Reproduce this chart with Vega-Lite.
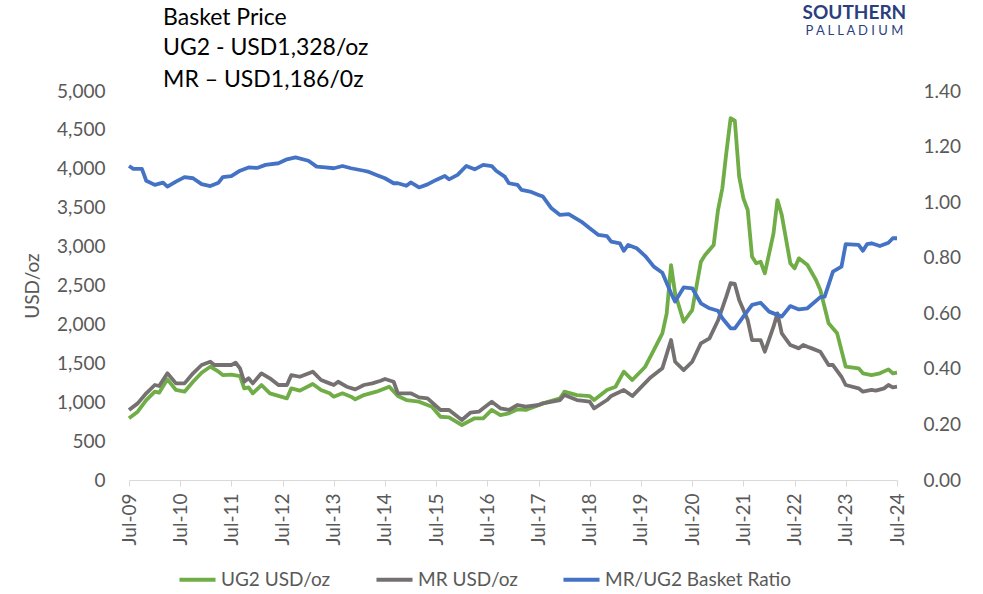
{
  "$schema": "https://vega.github.io/schema/vega-lite/v6.json",
  "width": 768,
  "height": 389,
  "autosize": "none",
  "padding": {"left": 129, "top": 91, "right": 86, "bottom": 114},
  "config": {
    "view": {"stroke": null},
    "font": "Lato"
  },
  "data": {
    "values": [
      {"date": "2009/07/01", "series": "UG2 USD/oz", "value": 793},
      {"date": "2009/09/01", "series": "UG2 USD/oz", "value": 878},
      {"date": "2009/11/01", "series": "UG2 USD/oz", "value": 1028},
      {"date": "2010/01/01", "series": "UG2 USD/oz", "value": 1135},
      {"date": "2010/02/01", "series": "UG2 USD/oz", "value": 1122},
      {"date": "2010/04/01", "series": "UG2 USD/oz", "value": 1294},
      {"date": "2010/06/01", "series": "UG2 USD/oz", "value": 1157},
      {"date": "2010/08/01", "series": "UG2 USD/oz", "value": 1135},
      {"date": "2010/10/01", "series": "UG2 USD/oz", "value": 1263},
      {"date": "2010/12/01", "series": "UG2 USD/oz", "value": 1379},
      {"date": "2011/02/01", "series": "UG2 USD/oz", "value": 1456},
      {"date": "2011/04/01", "series": "UG2 USD/oz", "value": 1392},
      {"date": "2011/05/01", "series": "UG2 USD/oz", "value": 1349},
      {"date": "2011/07/01", "series": "UG2 USD/oz", "value": 1355},
      {"date": "2011/09/01", "series": "UG2 USD/oz", "value": 1336},
      {"date": "2011/10/01", "series": "UG2 USD/oz", "value": 1178},
      {"date": "2011/11/01", "series": "UG2 USD/oz", "value": 1191},
      {"date": "2011/12/01", "series": "UG2 USD/oz", "value": 1114},
      {"date": "2012/02/01", "series": "UG2 USD/oz", "value": 1221},
      {"date": "2012/04/01", "series": "UG2 USD/oz", "value": 1114},
      {"date": "2012/08/01", "series": "UG2 USD/oz", "value": 1050},
      {"date": "2012/09/01", "series": "UG2 USD/oz", "value": 1178},
      {"date": "2012/11/01", "series": "UG2 USD/oz", "value": 1148},
      {"date": "2013/02/01", "series": "UG2 USD/oz", "value": 1234},
      {"date": "2013/04/01", "series": "UG2 USD/oz", "value": 1157},
      {"date": "2013/06/01", "series": "UG2 USD/oz", "value": 1114},
      {"date": "2013/07/01", "series": "UG2 USD/oz", "value": 1071},
      {"date": "2013/09/01", "series": "UG2 USD/oz", "value": 1114},
      {"date": "2013/11/01", "series": "UG2 USD/oz", "value": 1071},
      {"date": "2013/12/01", "series": "UG2 USD/oz", "value": 1037},
      {"date": "2014/02/01", "series": "UG2 USD/oz", "value": 1092},
      {"date": "2014/05/01", "series": "UG2 USD/oz", "value": 1135},
      {"date": "2014/08/01", "series": "UG2 USD/oz", "value": 1199},
      {"date": "2014/10/01", "series": "UG2 USD/oz", "value": 1079},
      {"date": "2014/12/01", "series": "UG2 USD/oz", "value": 1028},
      {"date": "2015/03/01", "series": "UG2 USD/oz", "value": 1006},
      {"date": "2015/06/01", "series": "UG2 USD/oz", "value": 942},
      {"date": "2015/08/01", "series": "UG2 USD/oz", "value": 813},
      {"date": "2015/10/01", "series": "UG2 USD/oz", "value": 806},
      {"date": "2016/01/01", "series": "UG2 USD/oz", "value": 707},
      {"date": "2016/04/01", "series": "UG2 USD/oz", "value": 793},
      {"date": "2016/06/01", "series": "UG2 USD/oz", "value": 793},
      {"date": "2016/08/01", "series": "UG2 USD/oz", "value": 900},
      {"date": "2016/10/01", "series": "UG2 USD/oz", "value": 835},
      {"date": "2016/12/01", "series": "UG2 USD/oz", "value": 857},
      {"date": "2017/02/01", "series": "UG2 USD/oz", "value": 908},
      {"date": "2017/04/01", "series": "UG2 USD/oz", "value": 900},
      {"date": "2017/08/01", "series": "UG2 USD/oz", "value": 985},
      {"date": "2017/12/01", "series": "UG2 USD/oz", "value": 1050},
      {"date": "2018/01/01", "series": "UG2 USD/oz", "value": 1135},
      {"date": "2018/04/01", "series": "UG2 USD/oz", "value": 1092},
      {"date": "2018/07/01", "series": "UG2 USD/oz", "value": 1079},
      {"date": "2018/08/01", "series": "UG2 USD/oz", "value": 1028},
      {"date": "2018/11/01", "series": "UG2 USD/oz", "value": 1157},
      {"date": "2019/01/01", "series": "UG2 USD/oz", "value": 1199},
      {"date": "2019/03/01", "series": "UG2 USD/oz", "value": 1392},
      {"date": "2019/05/01", "series": "UG2 USD/oz", "value": 1285},
      {"date": "2019/08/01", "series": "UG2 USD/oz", "value": 1456},
      {"date": "2019/10/01", "series": "UG2 USD/oz", "value": 1670},
      {"date": "2019/12/01", "series": "UG2 USD/oz", "value": 1885},
      {"date": "2020/01/01", "series": "UG2 USD/oz", "value": 2142},
      {"date": "2020/02/01", "series": "UG2 USD/oz", "value": 2763},
      {"date": "2020/03/01", "series": "UG2 USD/oz", "value": 2399},
      {"date": "2020/05/01", "series": "UG2 USD/oz", "value": 2034},
      {"date": "2020/07/01", "series": "UG2 USD/oz", "value": 2185},
      {"date": "2020/09/01", "series": "UG2 USD/oz", "value": 2805},
      {"date": "2020/10/01", "series": "UG2 USD/oz", "value": 2891},
      {"date": "2020/12/01", "series": "UG2 USD/oz", "value": 3020},
      {"date": "2021/01/01", "series": "UG2 USD/oz", "value": 3470},
      {"date": "2021/02/01", "series": "UG2 USD/oz", "value": 3750},
      {"date": "2021/03/01", "series": "UG2 USD/oz", "value": 4200},
      {"date": "2021/04/01", "series": "UG2 USD/oz", "value": 4650},
      {"date": "2021/05/01", "series": "UG2 USD/oz", "value": 4620},
      {"date": "2021/06/01", "series": "UG2 USD/oz", "value": 3900},
      {"date": "2021/07/01", "series": "UG2 USD/oz", "value": 3620},
      {"date": "2021/08/01", "series": "UG2 USD/oz", "value": 3470},
      {"date": "2021/09/01", "series": "UG2 USD/oz", "value": 2869},
      {"date": "2021/10/01", "series": "UG2 USD/oz", "value": 2785},
      {"date": "2021/11/01", "series": "UG2 USD/oz", "value": 2805},
      {"date": "2021/12/01", "series": "UG2 USD/oz", "value": 2656},
      {"date": "2022/02/01", "series": "UG2 USD/oz", "value": 3170},
      {"date": "2022/03/01", "series": "UG2 USD/oz", "value": 3598},
      {"date": "2022/04/01", "series": "UG2 USD/oz", "value": 3405},
      {"date": "2022/06/01", "series": "UG2 USD/oz", "value": 2785},
      {"date": "2022/07/01", "series": "UG2 USD/oz", "value": 2720},
      {"date": "2022/08/01", "series": "UG2 USD/oz", "value": 2849},
      {"date": "2022/10/01", "series": "UG2 USD/oz", "value": 2763},
      {"date": "2022/12/01", "series": "UG2 USD/oz", "value": 2570},
      {"date": "2023/01/01", "series": "UG2 USD/oz", "value": 2442},
      {"date": "2023/03/01", "series": "UG2 USD/oz", "value": 2014},
      {"date": "2023/05/01", "series": "UG2 USD/oz", "value": 1885},
      {"date": "2023/07/01", "series": "UG2 USD/oz", "value": 1456},
      {"date": "2023/10/01", "series": "UG2 USD/oz", "value": 1435},
      {"date": "2023/11/01", "series": "UG2 USD/oz", "value": 1371},
      {"date": "2024/01/01", "series": "UG2 USD/oz", "value": 1349},
      {"date": "2024/03/01", "series": "UG2 USD/oz", "value": 1371},
      {"date": "2024/05/01", "series": "UG2 USD/oz", "value": 1422},
      {"date": "2024/06/01", "series": "UG2 USD/oz", "value": 1371},
      {"date": "2024/07/01", "series": "UG2 USD/oz", "value": 1379},

      {"date": "2009/07/01", "series": "MR USD/oz", "value": 900},
      {"date": "2009/09/01", "series": "MR USD/oz", "value": 985},
      {"date": "2009/11/01", "series": "MR USD/oz", "value": 1114},
      {"date": "2010/01/01", "series": "MR USD/oz", "value": 1221},
      {"date": "2010/02/01", "series": "MR USD/oz", "value": 1208},
      {"date": "2010/04/01", "series": "MR USD/oz", "value": 1371},
      {"date": "2010/06/01", "series": "MR USD/oz", "value": 1242},
      {"date": "2010/08/01", "series": "MR USD/oz", "value": 1242},
      {"date": "2010/10/01", "series": "MR USD/oz", "value": 1371},
      {"date": "2010/12/01", "series": "MR USD/oz", "value": 1478},
      {"date": "2011/02/01", "series": "MR USD/oz", "value": 1520},
      {"date": "2011/03/01", "series": "MR USD/oz", "value": 1478},
      {"date": "2011/05/01", "series": "MR USD/oz", "value": 1478},
      {"date": "2011/07/01", "series": "MR USD/oz", "value": 1478},
      {"date": "2011/08/01", "series": "MR USD/oz", "value": 1507},
      {"date": "2011/09/01", "series": "MR USD/oz", "value": 1435},
      {"date": "2011/10/01", "series": "MR USD/oz", "value": 1263},
      {"date": "2011/11/01", "series": "MR USD/oz", "value": 1307},
      {"date": "2011/12/01", "series": "MR USD/oz", "value": 1242},
      {"date": "2012/02/01", "series": "MR USD/oz", "value": 1371},
      {"date": "2012/04/01", "series": "MR USD/oz", "value": 1307},
      {"date": "2012/06/01", "series": "MR USD/oz", "value": 1221},
      {"date": "2012/08/01", "series": "MR USD/oz", "value": 1221},
      {"date": "2012/09/01", "series": "MR USD/oz", "value": 1349},
      {"date": "2012/11/01", "series": "MR USD/oz", "value": 1327},
      {"date": "2013/02/01", "series": "MR USD/oz", "value": 1392},
      {"date": "2013/04/01", "series": "MR USD/oz", "value": 1285},
      {"date": "2013/06/01", "series": "MR USD/oz", "value": 1242},
      {"date": "2013/07/01", "series": "MR USD/oz", "value": 1221},
      {"date": "2013/08/01", "series": "MR USD/oz", "value": 1263},
      {"date": "2013/10/01", "series": "MR USD/oz", "value": 1199},
      {"date": "2013/12/01", "series": "MR USD/oz", "value": 1165},
      {"date": "2014/02/01", "series": "MR USD/oz", "value": 1221},
      {"date": "2014/04/01", "series": "MR USD/oz", "value": 1242},
      {"date": "2014/06/01", "series": "MR USD/oz", "value": 1276},
      {"date": "2014/07/01", "series": "MR USD/oz", "value": 1298},
      {"date": "2014/09/01", "series": "MR USD/oz", "value": 1263},
      {"date": "2014/10/01", "series": "MR USD/oz", "value": 1114},
      {"date": "2015/01/01", "series": "MR USD/oz", "value": 1114},
      {"date": "2015/03/01", "series": "MR USD/oz", "value": 1062},
      {"date": "2015/05/01", "series": "MR USD/oz", "value": 1050},
      {"date": "2015/08/01", "series": "MR USD/oz", "value": 900},
      {"date": "2015/10/01", "series": "MR USD/oz", "value": 900},
      {"date": "2016/01/01", "series": "MR USD/oz", "value": 771},
      {"date": "2016/03/01", "series": "MR USD/oz", "value": 865},
      {"date": "2016/05/01", "series": "MR USD/oz", "value": 878},
      {"date": "2016/06/01", "series": "MR USD/oz", "value": 921},
      {"date": "2016/08/01", "series": "MR USD/oz", "value": 1006},
      {"date": "2016/10/01", "series": "MR USD/oz", "value": 921},
      {"date": "2016/12/01", "series": "MR USD/oz", "value": 900},
      {"date": "2017/02/01", "series": "MR USD/oz", "value": 964},
      {"date": "2017/04/01", "series": "MR USD/oz", "value": 942},
      {"date": "2017/07/01", "series": "MR USD/oz", "value": 964},
      {"date": "2017/08/01", "series": "MR USD/oz", "value": 985},
      {"date": "2017/12/01", "series": "MR USD/oz", "value": 1028},
      {"date": "2018/01/01", "series": "MR USD/oz", "value": 1092},
      {"date": "2018/04/01", "series": "MR USD/oz", "value": 1028},
      {"date": "2018/07/01", "series": "MR USD/oz", "value": 1006},
      {"date": "2018/08/01", "series": "MR USD/oz", "value": 921},
      {"date": "2018/11/01", "series": "MR USD/oz", "value": 1028},
      {"date": "2018/12/01", "series": "MR USD/oz", "value": 1080},
      {"date": "2019/03/01", "series": "MR USD/oz", "value": 1157},
      {"date": "2019/05/01", "series": "MR USD/oz", "value": 1079},
      {"date": "2019/09/01", "series": "MR USD/oz", "value": 1307},
      {"date": "2019/12/01", "series": "MR USD/oz", "value": 1435},
      {"date": "2020/02/01", "series": "MR USD/oz", "value": 1799},
      {"date": "2020/03/01", "series": "MR USD/oz", "value": 1520},
      {"date": "2020/05/01", "series": "MR USD/oz", "value": 1413},
      {"date": "2020/07/01", "series": "MR USD/oz", "value": 1520},
      {"date": "2020/09/01", "series": "MR USD/oz", "value": 1757},
      {"date": "2020/11/01", "series": "MR USD/oz", "value": 1820},
      {"date": "2021/01/01", "series": "MR USD/oz", "value": 2050},
      {"date": "2021/03/01", "series": "MR USD/oz", "value": 2356},
      {"date": "2021/04/01", "series": "MR USD/oz", "value": 2530},
      {"date": "2021/05/01", "series": "MR USD/oz", "value": 2520},
      {"date": "2021/06/01", "series": "MR USD/oz", "value": 2313},
      {"date": "2021/08/01", "series": "MR USD/oz", "value": 2056},
      {"date": "2021/09/01", "series": "MR USD/oz", "value": 1799},
      {"date": "2021/11/01", "series": "MR USD/oz", "value": 1799},
      {"date": "2021/12/01", "series": "MR USD/oz", "value": 1649},
      {"date": "2022/02/01", "series": "MR USD/oz", "value": 1970},
      {"date": "2022/03/01", "series": "MR USD/oz", "value": 2142},
      {"date": "2022/04/01", "series": "MR USD/oz", "value": 1885},
      {"date": "2022/06/01", "series": "MR USD/oz", "value": 1735},
      {"date": "2022/08/01", "series": "MR USD/oz", "value": 1692},
      {"date": "2022/09/01", "series": "MR USD/oz", "value": 1735},
      {"date": "2022/10/01", "series": "MR USD/oz", "value": 1713},
      {"date": "2022/11/01", "series": "MR USD/oz", "value": 1692},
      {"date": "2023/01/01", "series": "MR USD/oz", "value": 1649},
      {"date": "2023/03/01", "series": "MR USD/oz", "value": 1478},
      {"date": "2023/04/01", "series": "MR USD/oz", "value": 1478},
      {"date": "2023/06/01", "series": "MR USD/oz", "value": 1327},
      {"date": "2023/07/01", "series": "MR USD/oz", "value": 1221},
      {"date": "2023/10/01", "series": "MR USD/oz", "value": 1178},
      {"date": "2023/11/01", "series": "MR USD/oz", "value": 1135},
      {"date": "2024/01/01", "series": "MR USD/oz", "value": 1157},
      {"date": "2024/02/01", "series": "MR USD/oz", "value": 1148},
      {"date": "2024/04/01", "series": "MR USD/oz", "value": 1178},
      {"date": "2024/05/01", "series": "MR USD/oz", "value": 1221},
      {"date": "2024/06/01", "series": "MR USD/oz", "value": 1191},
      {"date": "2024/07/01", "series": "MR USD/oz", "value": 1199},

      {"date": "2009/07/01", "series": "MR/UG2 Basket Ratio", "value": 1.13},
      {"date": "2009/08/01", "series": "MR/UG2 Basket Ratio", "value": 1.12},
      {"date": "2009/10/01", "series": "MR/UG2 Basket Ratio", "value": 1.12},
      {"date": "2009/11/01", "series": "MR/UG2 Basket Ratio", "value": 1.077},
      {"date": "2010/01/01", "series": "MR/UG2 Basket Ratio", "value": 1.062},
      {"date": "2010/03/01", "series": "MR/UG2 Basket Ratio", "value": 1.07},
      {"date": "2010/04/01", "series": "MR/UG2 Basket Ratio", "value": 1.056},
      {"date": "2010/06/01", "series": "MR/UG2 Basket Ratio", "value": 1.074},
      {"date": "2010/08/01", "series": "MR/UG2 Basket Ratio", "value": 1.09},
      {"date": "2010/10/01", "series": "MR/UG2 Basket Ratio", "value": 1.086},
      {"date": "2010/12/01", "series": "MR/UG2 Basket Ratio", "value": 1.065},
      {"date": "2011/02/01", "series": "MR/UG2 Basket Ratio", "value": 1.058},
      {"date": "2011/04/01", "series": "MR/UG2 Basket Ratio", "value": 1.07},
      {"date": "2011/05/01", "series": "MR/UG2 Basket Ratio", "value": 1.09},
      {"date": "2011/07/01", "series": "MR/UG2 Basket Ratio", "value": 1.094},
      {"date": "2011/09/01", "series": "MR/UG2 Basket Ratio", "value": 1.113},
      {"date": "2011/11/01", "series": "MR/UG2 Basket Ratio", "value": 1.125},
      {"date": "2012/01/01", "series": "MR/UG2 Basket Ratio", "value": 1.123},
      {"date": "2012/03/01", "series": "MR/UG2 Basket Ratio", "value": 1.134},
      {"date": "2012/06/01", "series": "MR/UG2 Basket Ratio", "value": 1.14},
      {"date": "2012/08/01", "series": "MR/UG2 Basket Ratio", "value": 1.154},
      {"date": "2012/10/01", "series": "MR/UG2 Basket Ratio", "value": 1.161},
      {"date": "2013/01/01", "series": "MR/UG2 Basket Ratio", "value": 1.149},
      {"date": "2013/03/01", "series": "MR/UG2 Basket Ratio", "value": 1.128},
      {"date": "2013/05/01", "series": "MR/UG2 Basket Ratio", "value": 1.125},
      {"date": "2013/07/01", "series": "MR/UG2 Basket Ratio", "value": 1.122},
      {"date": "2013/09/01", "series": "MR/UG2 Basket Ratio", "value": 1.13},
      {"date": "2013/11/01", "series": "MR/UG2 Basket Ratio", "value": 1.122},
      {"date": "2014/02/01", "series": "MR/UG2 Basket Ratio", "value": 1.113},
      {"date": "2014/03/01", "series": "MR/UG2 Basket Ratio", "value": 1.11},
      {"date": "2014/05/01", "series": "MR/UG2 Basket Ratio", "value": 1.098},
      {"date": "2014/07/01", "series": "MR/UG2 Basket Ratio", "value": 1.086},
      {"date": "2014/09/01", "series": "MR/UG2 Basket Ratio", "value": 1.068},
      {"date": "2014/10/01", "series": "MR/UG2 Basket Ratio", "value": 1.068},
      {"date": "2014/12/01", "series": "MR/UG2 Basket Ratio", "value": 1.059},
      {"date": "2015/01/01", "series": "MR/UG2 Basket Ratio", "value": 1.071},
      {"date": "2015/03/01", "series": "MR/UG2 Basket Ratio", "value": 1.053},
      {"date": "2015/05/01", "series": "MR/UG2 Basket Ratio", "value": 1.064},
      {"date": "2015/07/01", "series": "MR/UG2 Basket Ratio", "value": 1.08},
      {"date": "2015/09/01", "series": "MR/UG2 Basket Ratio", "value": 1.094},
      {"date": "2015/10/01", "series": "MR/UG2 Basket Ratio", "value": 1.082},
      {"date": "2015/12/01", "series": "MR/UG2 Basket Ratio", "value": 1.098},
      {"date": "2016/02/01", "series": "MR/UG2 Basket Ratio", "value": 1.13},
      {"date": "2016/04/01", "series": "MR/UG2 Basket Ratio", "value": 1.118},
      {"date": "2016/06/01", "series": "MR/UG2 Basket Ratio", "value": 1.134},
      {"date": "2016/08/01", "series": "MR/UG2 Basket Ratio", "value": 1.13},
      {"date": "2016/09/01", "series": "MR/UG2 Basket Ratio", "value": 1.113},
      {"date": "2016/11/01", "series": "MR/UG2 Basket Ratio", "value": 1.092},
      {"date": "2016/12/01", "series": "MR/UG2 Basket Ratio", "value": 1.068},
      {"date": "2017/02/01", "series": "MR/UG2 Basket Ratio", "value": 1.062},
      {"date": "2017/03/01", "series": "MR/UG2 Basket Ratio", "value": 1.044},
      {"date": "2017/05/01", "series": "MR/UG2 Basket Ratio", "value": 1.038},
      {"date": "2017/07/01", "series": "MR/UG2 Basket Ratio", "value": 1.026},
      {"date": "2017/08/01", "series": "MR/UG2 Basket Ratio", "value": 1.02},
      {"date": "2017/10/01", "series": "MR/UG2 Basket Ratio", "value": 0.978},
      {"date": "2017/12/01", "series": "MR/UG2 Basket Ratio", "value": 0.954},
      {"date": "2018/02/01", "series": "MR/UG2 Basket Ratio", "value": 0.957},
      {"date": "2018/05/01", "series": "MR/UG2 Basket Ratio", "value": 0.93},
      {"date": "2018/07/01", "series": "MR/UG2 Basket Ratio", "value": 0.906},
      {"date": "2018/09/01", "series": "MR/UG2 Basket Ratio", "value": 0.882},
      {"date": "2018/11/01", "series": "MR/UG2 Basket Ratio", "value": 0.878},
      {"date": "2018/12/01", "series": "MR/UG2 Basket Ratio", "value": 0.858},
      {"date": "2019/02/01", "series": "MR/UG2 Basket Ratio", "value": 0.852},
      {"date": "2019/03/01", "series": "MR/UG2 Basket Ratio", "value": 0.825},
      {"date": "2019/04/01", "series": "MR/UG2 Basket Ratio", "value": 0.846},
      {"date": "2019/06/01", "series": "MR/UG2 Basket Ratio", "value": 0.834},
      {"date": "2019/08/01", "series": "MR/UG2 Basket Ratio", "value": 0.806},
      {"date": "2019/10/01", "series": "MR/UG2 Basket Ratio", "value": 0.768},
      {"date": "2019/12/01", "series": "MR/UG2 Basket Ratio", "value": 0.746},
      {"date": "2020/02/01", "series": "MR/UG2 Basket Ratio", "value": 0.672},
      {"date": "2020/03/01", "series": "MR/UG2 Basket Ratio", "value": 0.642},
      {"date": "2020/05/01", "series": "MR/UG2 Basket Ratio", "value": 0.693},
      {"date": "2020/07/01", "series": "MR/UG2 Basket Ratio", "value": 0.69},
      {"date": "2020/09/01", "series": "MR/UG2 Basket Ratio", "value": 0.636},
      {"date": "2020/11/01", "series": "MR/UG2 Basket Ratio", "value": 0.618},
      {"date": "2021/01/01", "series": "MR/UG2 Basket Ratio", "value": 0.609},
      {"date": "2021/02/01", "series": "MR/UG2 Basket Ratio", "value": 0.582},
      {"date": "2021/04/01", "series": "MR/UG2 Basket Ratio", "value": 0.546},
      {"date": "2021/05/01", "series": "MR/UG2 Basket Ratio", "value": 0.546},
      {"date": "2021/07/01", "series": "MR/UG2 Basket Ratio", "value": 0.588},
      {"date": "2021/09/01", "series": "MR/UG2 Basket Ratio", "value": 0.63},
      {"date": "2021/11/01", "series": "MR/UG2 Basket Ratio", "value": 0.638},
      {"date": "2022/01/01", "series": "MR/UG2 Basket Ratio", "value": 0.606},
      {"date": "2022/04/01", "series": "MR/UG2 Basket Ratio", "value": 0.588},
      {"date": "2022/06/01", "series": "MR/UG2 Basket Ratio", "value": 0.626},
      {"date": "2022/08/01", "series": "MR/UG2 Basket Ratio", "value": 0.614},
      {"date": "2022/10/01", "series": "MR/UG2 Basket Ratio", "value": 0.618},
      {"date": "2023/01/01", "series": "MR/UG2 Basket Ratio", "value": 0.658},
      {"date": "2023/02/01", "series": "MR/UG2 Basket Ratio", "value": 0.66},
      {"date": "2023/04/01", "series": "MR/UG2 Basket Ratio", "value": 0.75},
      {"date": "2023/06/01", "series": "MR/UG2 Basket Ratio", "value": 0.768},
      {"date": "2023/07/01", "series": "MR/UG2 Basket Ratio", "value": 0.849},
      {"date": "2023/10/01", "series": "MR/UG2 Basket Ratio", "value": 0.846},
      {"date": "2023/11/01", "series": "MR/UG2 Basket Ratio", "value": 0.825},
      {"date": "2023/12/01", "series": "MR/UG2 Basket Ratio", "value": 0.849},
      {"date": "2024/01/01", "series": "MR/UG2 Basket Ratio", "value": 0.852},
      {"date": "2024/03/01", "series": "MR/UG2 Basket Ratio", "value": 0.842},
      {"date": "2024/05/01", "series": "MR/UG2 Basket Ratio", "value": 0.854},
      {"date": "2024/06/01", "series": "MR/UG2 Basket Ratio", "value": 0.87},
      {"date": "2024/07/01", "series": "MR/UG2 Basket Ratio", "value": 0.87}
    ]
  },
  "layer": [
    {
      "layer": [
        {
          "transform": [{"filter": "datum.series === 'UG2 USD/oz'"}],
          "mark": {"type": "line", "strokeWidth": 3.8, "strokeJoin": "round"},
          "encoding": {
            "x": {
              "field": "date", "type": "temporal",
              "scale": {"domain": [{"year": 2009, "month": 7, "date": 1}, {"year": 2024, "month": 7, "date": 1}]},
              "axis": {
                "title": null,
                "values": [
                  {"year": 2009, "month": 7, "date": 1}, {"year": 2010, "month": 7, "date": 1},
                  {"year": 2011, "month": 7, "date": 1}, {"year": 2012, "month": 7, "date": 1},
                  {"year": 2013, "month": 7, "date": 1}, {"year": 2014, "month": 7, "date": 1},
                  {"year": 2015, "month": 7, "date": 1}, {"year": 2016, "month": 7, "date": 1},
                  {"year": 2017, "month": 7, "date": 1}, {"year": 2018, "month": 7, "date": 1},
                  {"year": 2019, "month": 7, "date": 1}, {"year": 2020, "month": 7, "date": 1},
                  {"year": 2021, "month": 7, "date": 1}, {"year": 2022, "month": 7, "date": 1},
                  {"year": 2023, "month": 7, "date": 1}, {"year": 2024, "month": 7, "date": 1}
                ],
                "format": "%b-%y",
                "labelAngle": -90,
                "labelFont": "Lato",
                "labelFontSize": 19,
                "labelColor": "#595959",
                "labelPadding": 7,
                "labelOverlap": false,
                "labelFlush": false,
                "grid": false,
                "domainColor": "#d9d9d9",
                "domainWidth": 1,
                "tickColor": "#d9d9d9",
                "tickSize": 6
              }
            },
            "y": {
              "field": "value", "type": "quantitative",
              "scale": {"domain": [0, 5000], "nice": false},
              "axis": {
                "title": "USD/oz",
                "titleFont": "Lato",
                "titleFontSize": 19,
                "titleFontWeight": "normal",
                "titleColor": "#595959",
                "titlePadding": 14,
                "values": [0, 500, 1000, 1500, 2000, 2500, 3000, 3500, 4000, 4500, 5000],
                "format": ",.0f",
                "formatType": "number",
                "labelFont": "Lato",
                "labelFontSize": 19,
                "labelColor": "#595959",
                "labelPadding": 24,
                "labelOverlap": false,
                "domain": false,
                "ticks": false,
                "grid": false
              }
            },
            "color": {
              "field": "series", "type": "nominal",
              "scale": {
                "domain": ["UG2 USD/oz", "MR USD/oz", "MR/UG2 Basket Ratio"],
                "range": ["#70AD47", "#767171", "#4472C4"]
              },
              "legend": {
                "orient": "none",
                "legendX": 48,
                "legendY": 468,
                "direction": "horizontal",
                "title": null,
                "symbolType": "stroke",
                "symbolSize": 1300,
                "symbolStrokeWidth": 4,
                "labelFont": "Lato",
                "labelFontSize": 19,
                "labelColor": "#595959",
                "labelOffset": 3,
                "labelLimit": 400,
                "columnPadding": 37
              }
            }
          }
        },
        {
          "transform": [{"filter": "datum.series === 'MR USD/oz'"}],
          "mark": {"type": "line", "strokeWidth": 3.8, "strokeJoin": "round"},
          "encoding": {
            "x": {"field": "date", "type": "temporal"},
            "y": {
              "field": "value", "type": "quantitative",
              "axis": {
                "title": "USD/oz",
                "titleFont": "Lato",
                "titleFontSize": 19,
                "titleFontWeight": "normal",
                "titleColor": "#595959",
                "titlePadding": 14,
                "values": [0, 500, 1000, 1500, 2000, 2500, 3000, 3500, 4000, 4500, 5000],
                "format": ",.0f",
                "formatType": "number",
                "labelFont": "Lato",
                "labelFontSize": 19,
                "labelColor": "#595959",
                "labelPadding": 24,
                "labelOverlap": false,
                "domain": false,
                "ticks": false,
                "grid": false
              }
            },
            "color": {"field": "series", "type": "nominal"}
          }
        }
      ]
    },
    {
      "transform": [{"filter": "datum.series === 'MR/UG2 Basket Ratio'"}],
      "mark": {"type": "line", "strokeWidth": 3.8, "strokeJoin": "round"},
      "encoding": {
        "x": {"field": "date", "type": "temporal"},
        "y": {
          "field": "value", "type": "quantitative",
          "scale": {"domain": [0, 1.4], "nice": false},
          "axis": {
            "orient": "right",
            "title": null,
            "values": [0, 0.2, 0.4, 0.6, 0.8, 1.0, 1.2, 1.4],
            "format": ".2f",
            "labelFont": "Lato",
            "labelFontSize": 19,
            "labelColor": "#595959",
            "labelPadding": 26,
            "labelOverlap": false,
            "domain": false,
            "ticks": false,
            "grid": false
          }
        },
        "color": {"field": "series", "type": "nominal"}
      }
    },
    {
      "data": {"values": [
        {"label": "Basket Price", "ypos": 5938},
        {"label": "UG2 - USD1,328/oz", "ypos": 5553},
        {"label": "MR – USD1,186/0z", "ypos": 5141}
      ]},
      "mark": {"type": "text", "font": "Lato", "fontSize": 23, "color": "#000000", "align": "left", "baseline": "middle"},
      "encoding": {
        "x": {"datum": {"year": 2010, "month": 3, "date": 1}, "type": "temporal"},
        "y": {"field": "ypos", "type": "quantitative", "scale": {"domain": [0, 5000], "nice": false}, "axis": null},
        "text": {"field": "label"}
      }
    },
    {
      "data": {"values": [{"label": "SOUTHERN", "ypos": 6000}]},
      "mark": {"type": "text", "font": "Lato", "fontWeight": "bold", "fontSize": 19, "color": "#2b3f7e", "align": "center", "baseline": "middle"},
      "encoding": {
        "x": {"datum": {"year": 2023, "month": 9, "date": 1}, "type": "temporal"},
        "y": {"field": "ypos", "type": "quantitative", "scale": {"domain": [0, 5000], "nice": false}, "axis": null},
        "text": {"field": "label"}
      }
    },
    {
      "data": {"values": [{"label": "P A L L A D I U M", "ypos": 5765}]},
      "mark": {"type": "text", "font": "Lato", "fontSize": 13, "color": "#2b3f7e", "align": "center", "baseline": "middle"},
      "encoding": {
        "x": {"datum": {"year": 2023, "month": 9, "date": 1}, "type": "temporal"},
        "y": {"field": "ypos", "type": "quantitative", "scale": {"domain": [0, 5000], "nice": false}, "axis": null},
        "text": {"field": "label"}
      }
    }
  ],
  "resolve": {"scale": {"y": "independent"}}
}
